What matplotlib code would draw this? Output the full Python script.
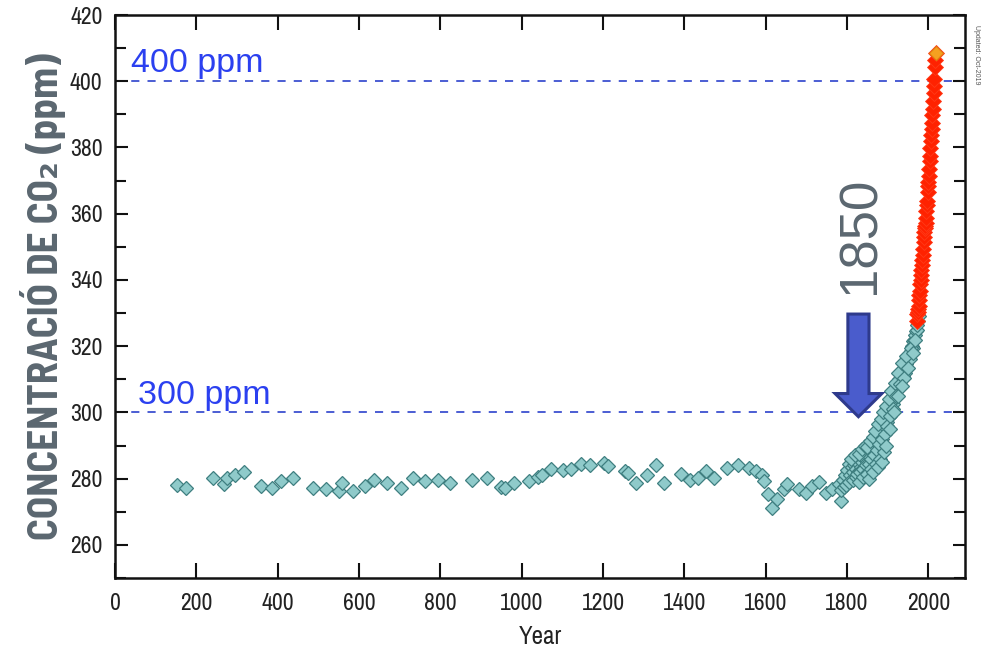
import matplotlib
matplotlib.use("Agg")
from matplotlib import pyplot as plt
from matplotlib.patches import FancyArrow
from matplotlib.ticker import MultipleLocator

# Ice core record (year, ppm)
ice_years = [152, 175, 240, 267, 275, 296, 318, 358, 385, 407, 437,
             487, 520, 551, 559, 585, 615, 637, 670, 703, 732, 762, 795, 824,
             877, 915, 949, 958, 982, 1019, 1041, 1050, 1073, 1101, 1120,
             1147, 1169, 1202, 1213, 1253, 1262, 1281, 1309, 1330, 1351,
             1392, 1414, 1434, 1453, 1474, 1504, 1533, 1558, 1576, 1591,
             1597, 1605, 1615, 1628, 1644, 1652, 1681, 1699, 1714, 1730,
             1747, 1763, 1780, 1784, 1790, 1795,
             1800, 1804, 1808, 1812, 1815, 1818, 1820, 1823, 1826, 1828,
             1830, 1832, 1835, 1837, 1840, 1842, 1845, 1847, 1850, 1852,
             1855, 1857, 1860, 1862, 1865, 1867, 1870, 1872, 1875, 1877,
             1880, 1882, 1885, 1887, 1890, 1892, 1895, 1897, 1900, 1902,
             1905, 1907, 1910, 1912, 1915, 1918, 1920, 1923, 1925, 1928,
             1930, 1933, 1935, 1938, 1940, 1943, 1945, 1948, 1950, 1952,
             1955, 1957, 1959, 1961, 1963, 1965, 1967, 1969, 1971, 1973,
             1975, 1978,
             1785, 1792, 1798, 1806, 1810, 1814, 1819, 1822, 1825, 1829,
             1833, 1836, 1839, 1843, 1846, 1849, 1853, 1856, 1859, 1863,
             1866, 1869, 1873, 1876, 1879, 1883, 1886, 1889, 1893, 1896,
             1899, 1903, 1906, 1909, 1913, 1917, 1921, 1926, 1931, 1936,
             1941, 1946, 1951, 1956, 1962, 1968,
             1830, 1840, 1850, 1855, 1860, 1865, 1870, 1875, 1880, 1885,
             1890, 1895, 1905, 1915, 1925, 1935]
ice_ppm = [278.1, 277.2, 280.2, 278.4, 280.1, 281.2, 281.9, 277.9, 277.2, 279.2, 280.1,
           277.2, 276.9, 276.4, 278.7, 276.2, 277.7, 279.6, 278.6, 277.1, 280.1, 279.2, 279.7, 278.7,
           279.6, 280.1, 277.4, 277.2, 278.7, 279.4, 280.6, 281.2, 282.9, 282.7, 282.9,
           284.5, 284.2, 284.8, 283.7, 282.4, 281.7, 278.7, 281.0, 284.2, 278.6,
           281.4, 279.6, 280.1, 282.4, 280.2, 283.2, 284.2, 283.3, 282.4, 281.2,
           279.4, 275.4, 271.1, 273.8, 276.9, 278.4, 276.9, 275.8, 277.9, 278.9,
           275.8, 276.9, 278.4, 273.3, 279.5, 281.0,
           282.5, 284.5, 281.0, 283.5, 282.0, 284.0, 280.5, 283.0, 285.5, 282.0,
           284.5, 286.5, 283.5, 285.0, 287.0, 283.5, 286.0, 288.0, 285.0, 287.5,
           289.0, 286.5, 290.0, 288.0, 291.0, 289.0, 292.5, 290.5, 293.5, 291.5,
           294.5, 292.5, 296.0, 294.0, 297.5, 295.5, 299.0, 297.0, 300.5, 298.5,
           301.5, 303.0, 304.5, 302.5, 306.0, 304.5, 307.5, 309.0, 307.0, 310.0,
           311.5, 310.0, 312.5, 311.0, 313.5, 312.0, 314.5, 313.5, 316.0, 317.5,
           316.0, 318.5, 320.0, 319.5, 321.5, 322.0, 323.5, 324.5, 325.0, 326.5,
           327.5, 329.0,
           276.5, 277.5, 278.0, 279.0, 286.0, 279.5, 287.0, 280.5, 281.5, 287.5,
           282.0, 289.0, 283.0, 290.0, 284.0, 289.5, 284.5, 291.5, 286.0, 292.5,
           287.0, 294.5, 288.5, 296.5, 290.5, 298.0, 292.0, 300.0, 293.5, 302.0,
           296.0, 304.0, 299.0, 306.5, 301.0, 309.0, 305.0, 312.0, 308.5, 315.0,
           310.5, 317.0, 313.5, 319.5, 318.0, 322.0,
           279.0, 280.5, 281.5, 280.0, 283.0, 282.0, 284.5, 283.5, 286.0, 285.0,
           288.0, 290.0, 295.0, 300.0, 305.0, 308.0]

# Direct atmospheric record
ml_years = list(range(1972, 2019))
ml_ppm = [327.5, 329.7, 330.2, 331.1, 332.0, 333.8, 335.4, 336.8, 338.7, 340.1,
          341.4, 343.0, 344.6, 346.0, 347.4, 349.2, 351.6, 353.1, 354.4, 355.6,
          356.4, 357.1, 358.8, 360.8, 362.6, 363.7, 366.7, 368.4, 369.7, 371.3,
          373.5, 375.8, 377.5, 379.8, 381.9, 383.8, 385.6, 387.4, 389.9, 391.7,
          393.9, 396.5, 398.7, 400.8, 404.2, 406.5, 408.5]

ref_levels = [300, 400]
ref_labels = ["300 ppm", "400 ppm"]

narrow = ['Archivo Narrow', 'DejaVu Sans']
plain = ['Liberation Sans', 'DejaVu Sans']
grey = '#5b6770'

fig = plt.figure(figsize=(9.88, 6.52), dpi=100)
ax = fig.add_axes([115 / 988, 74 / 652, 850 / 988, 563 / 652])

# reference lines
for lvl in ref_levels:
    ax.axhline(lvl, color='#3d50d0', lw=1.3, ls=(0, (4.5, 4.5)), zorder=1)
ax.text(40, 400 + 0.6, ref_labels[1], color='#2b40f0', fontsize=24.5,
        family=plain, va='bottom', ha='left')
ax.text(57, 300 + 0.5, ref_labels[0], color='#2b40f0', fontsize=24.5,
        family=plain, va='bottom', ha='left')

# data
ax.plot(ice_years, ice_ppm, ls='none', marker='D', ms=6.8,
        mfc='#8fcaca', mec='#3f7f80', mew=0.9, zorder=3)
ax.plot(ml_years, ml_ppm, ls='none', marker='D', ms=8,
        mfc='#ff2200', mec='#ff3a18', mew=0.6, zorder=4)
ax.plot(ml_years[-1:], ml_ppm[-1:], ls='none', marker='D', ms=7,
        mfc='#f5a020', mec='#e08010', mew=0.8, zorder=5)

# arrow and 1850 label
arr = FancyArrow(1828, 329.7, 0, -31.0, width=52, head_width=115,
                 head_length=7.0, length_includes_head=True,
                 fc='#4a5ccc', ec='#2e3a8c', lw=2.2, zorder=6)
ax.add_patch(arr)
ax.text(1833, 353.5, "1850", rotation=90, color=grey, fontsize=38,
        family=plain, ha='center', va='center')

ax.set_xlim(0, 2090)
ax.set_ylim(250, 420)
ax.xaxis.set_major_locator(MultipleLocator(200))
ax.yaxis.set_major_locator(MultipleLocator(20))
ax.yaxis.set_minor_locator(MultipleLocator(10))
ax.tick_params(axis='both', which='both', direction='in', top=True, right=True,
               width=1.5, colors='#111111')
ax.tick_params(axis='x', which='major', length=11, pad=11)
ax.tick_params(axis='y', which='major', length=9, pad=9)
ax.tick_params(axis='y', which='minor', length=8)
for lab in ax.get_xticklabels() + ax.get_yticklabels():
    lab.set_family(narrow)
    lab.set_fontsize(17)
    lab.set_color('#222222')
for sp in ax.spines.values():
    sp.set_linewidth(1.8)
    sp.set_color('#111111')

ax.set_xlabel("Year", family=narrow, fontsize=18, color='#222222', labelpad=8)
fig.text(43 / 988, 1 - 297 / 652, "CONCENTRACIÓ DE CO₂ (ppm)", rotation=90,
         family=['Barlow Semi Condensed', 'DejaVu Sans'], fontsize=29.5,
         fontweight='bold', color=grey, ha='center', va='center')
fig.text(976 / 988, 1 - 55 / 652, "Updated: Oct-2019", rotation=-90,
         fontsize=5, color='#555555', family=plain, ha='center', va='center')

fig.savefig("out.png", dpi=100)
